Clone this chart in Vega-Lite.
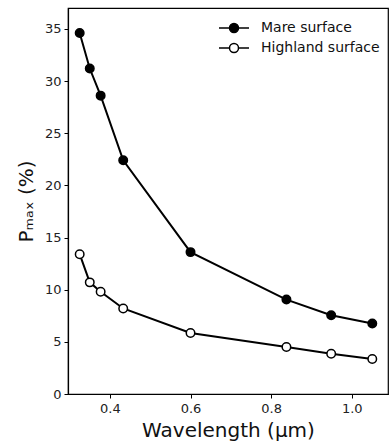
{
  "$schema": "https://vega.github.io/schema/vega-lite/v6.json",
  "width": 320,
  "height": 386,
  "autosize": {"type": "none"},
  "padding": {"left": 68, "top": 8, "right": 2, "bottom": 51},
  "background": "white",
  "config": {
    "font": "DejaVu Sans",
    "view": {"stroke": "black", "strokeWidth": 1.2},
    "axis": {
      "domainColor": "black", "domainWidth": 1.2, "tickColor": "black", "tickWidth": 1, "tickSize": 4,
      "labelFont": "DejaVu Sans", "labelFontSize": 13, "labelColor": "#222",
      "titleFont": "DejaVu Sans", "titleFontSize": 20, "titleFontWeight": "normal", "titleColor": "#111",
      "grid": false
    }
  },
  "data": {
    "values": [
      {"wl": 0.325, "p": 34.6, "surface": "Mare surface"},
      {"wl": 0.35, "p": 31.2, "surface": "Mare surface"},
      {"wl": 0.377, "p": 28.6, "surface": "Mare surface"},
      {"wl": 0.433, "p": 22.4, "surface": "Mare surface"},
      {"wl": 0.6, "p": 13.6, "surface": "Mare surface"},
      {"wl": 0.838, "p": 9.05, "surface": "Mare surface"},
      {"wl": 0.949, "p": 7.55, "surface": "Mare surface"},
      {"wl": 1.051, "p": 6.75, "surface": "Mare surface"},
      {"wl": 0.325, "p": 13.4, "surface": "Highland surface"},
      {"wl": 0.35, "p": 10.7, "surface": "Highland surface"},
      {"wl": 0.377, "p": 9.8, "surface": "Highland surface"},
      {"wl": 0.433, "p": 8.2, "surface": "Highland surface"},
      {"wl": 0.6, "p": 5.85, "surface": "Highland surface"},
      {"wl": 0.838, "p": 4.5, "surface": "Highland surface"},
      {"wl": 0.949, "p": 3.85, "surface": "Highland surface"},
      {"wl": 1.051, "p": 3.35, "surface": "Highland surface"}
    ]
  },
  "encoding": {
    "x": {
      "field": "wl", "type": "quantitative",
      "scale": {"domain": [0.296, 1.09], "nice": false, "zero": false},
      "axis": {"values": [0.4, 0.6, 0.8, 1.0], "format": ".1f", "title": "Wavelength (μm)", "labelPadding": 4, "titlePadding": 5}
    },
    "y": {
      "field": "p", "type": "quantitative",
      "scale": {"domain": [0, 37], "nice": false},
      "axis": {"values": [0, 5, 10, 15, 20, 25, 30, 35], "title": "Pₘₐₓ (%)", "labelPadding": 3, "titlePadding": 8}
    }
  },
  "layer": [
    {
      "mark": {"type": "line", "color": "black", "strokeWidth": 2},
      "encoding": {"detail": {"field": "surface"}}
    },
    {
      "mark": {"type": "point", "shape": "circle", "size": 72, "stroke": "black", "strokeWidth": 1.5, "opacity": 1, "filled": false},
      "encoding": {
        "fill": {
          "field": "surface", "type": "nominal",
          "scale": {"domain": ["Mare surface", "Highland surface"], "range": ["black", "white"]},
          "legend": {
            "title": null,
            "orient": "none",
            "legendX": 159,
            "legendY": 13,
            "padding": 0,
            "symbolType": "M-2.5,0L-0.75,0M0.75,0L2.5,0M-0.75,0A0.75,0.75 0 1,1 0.75,0A0.75,0.75 0 1,1 -0.75,0Z",
            "symbolSize": 144,
            "symbolStrokeColor": "black",
            "symbolStrokeWidth": 1.5,
            "symbolOpacity": 1,
            "labelFont": "DejaVu Sans",
            "labelFontSize": 14,
            "labelColor": "#111",
            "labelOffset": 20,
            "rowPadding": 4
          }
        }
      }
    }
  ]
}
